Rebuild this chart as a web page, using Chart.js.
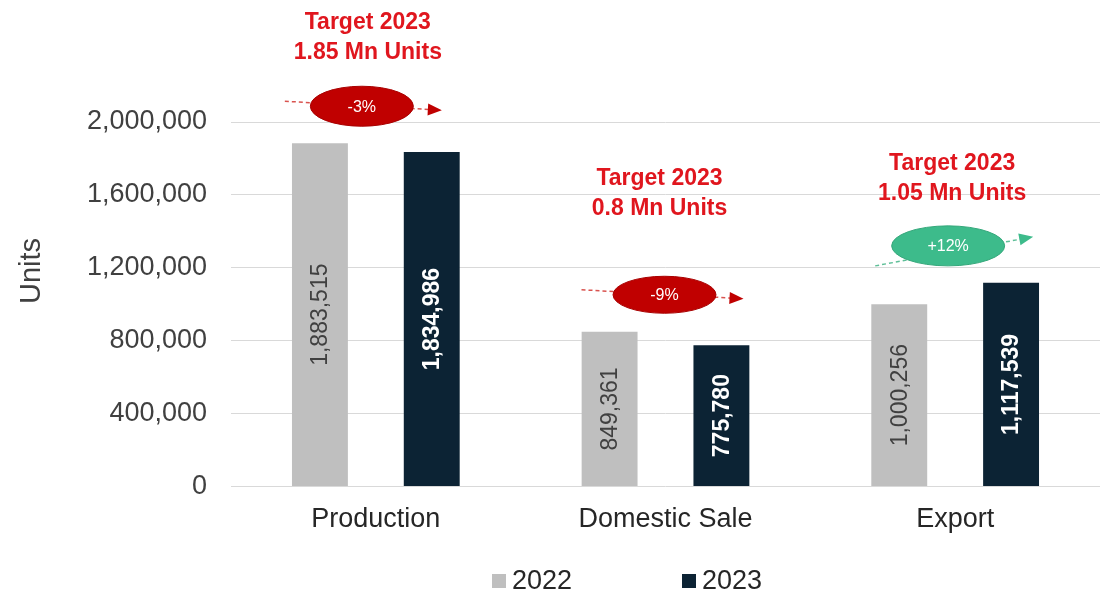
<!DOCTYPE html>
<html>
<head>
<meta charset="utf-8">
<script src="https://cdn.jsdelivr.net/npm/chart.js@4.4.0/dist/chart.umd.min.js"></script>
<style>
  html, body { margin: 0; padding: 0; background: #fff; }
  #wrap { width: 1102px; height: 598px; position: relative; }
</style>
</head>
<body>
<div id="wrap"><canvas id="chart"></canvas></div>
<script>
// data
const categories = ["Production", "Domestic Sale", "Export"];
const years = ["2022", "2023"];
const units2022 = [1883515, 849361, 1000256];
const units2023 = [1834986, 775780, 1117539];
const targets2023 = ["1.85", "0.8", "1.05"];
const yMin = 0;
const yMax = 2000000;
const yStep = 400000;

// styles
const FONT = "'Liberation Sans', Arial, sans-serif";
const colors = ["#bfbfbf", "#0c2334"];
const labelColors = ["#404040", "#ffffff"];
const labelWeights = ["normal", "bold"];
const targetRed = "#e0161e";

// offsets of the target notes (px, relative to category centre / tallest bar)
const noteLayout = [
  { textDx: -8, textDy: -84, ovalDx: -14, w: 103, h: 40, from: [-77, -5], to: [80, 4] },
  { textDx: -6, textDy: -116, ovalDx: -1, w: 103, h: 37, from: [-83, -5], to: [79, 4] },
  { textDx: -3, textDy: -82, ovalDx: -7, w: 113, h: 40, from: [-73, 20], to: [85, -9] },
];

const fmt = (v) => v.toLocaleString("en-US");

// vertical value labels inside every bar
const barLabels = {
  id: "barLabels",
  afterDatasetsDraw(chart) {
    const ctx = chart.ctx;
    chart.data.datasets.forEach((ds, di) => {
      chart.getDatasetMeta(di).data.forEach((bar, i) => {
        ctx.save();
        ctx.translate(bar.x, (bar.y + bar.base) / 2);
        ctx.rotate(-Math.PI / 2);
        ctx.font = labelWeights[di] + " 23px " + FONT;
        ctx.fillStyle = labelColors[di];
        ctx.textAlign = "center";
        ctx.textBaseline = "middle";
        ctx.fillText(fmt(ds.data[i]), 0, 1);
        ctx.restore();
      });
    });
  },
};

// target text + change oval with dashed arrow above each group
const targetNotes = {
  id: "targetNotes",
  afterDraw(chart) {
    const ctx = chart.ctx;
    const x = chart.scales.x;
    const y = chart.scales.y;
    categories.forEach((c, i) => {
      const L = noteLayout[i];
      const cx = x.getPixelForValue(i);
      const top = y.getPixelForValue(Math.max(units2022[i], units2023[i]));
      const oy = top - 37;
      const ox = cx + L.ovalDx;
      const change = Math.round((units2023[i] - units2022[i]) / units2022[i] * 100);
      const up = change > 0;
      const fill = up ? "#3dbb8b" : "#c00000";
      const dash = up ? "#5fbf98" : "#d9534f";

      // text
      ctx.save();
      ctx.font = "bold 23px " + FONT;
      ctx.fillStyle = targetRed;
      ctx.textAlign = "center";
      ctx.textBaseline = "middle";
      ctx.fillText("Target 2023", cx + L.textDx, oy + L.textDy);
      ctx.fillText(targets2023[i] + " Mn Units", cx + L.textDx, oy + L.textDy + 30);

      // dashed trend line
      const x1 = ox + L.from[0], y1 = oy + L.from[1];
      const x2 = ox + L.to[0], y2 = oy + L.to[1];
      ctx.strokeStyle = dash;
      ctx.lineWidth = 1.5;
      ctx.setLineDash([4, 3]);
      ctx.beginPath();
      ctx.moveTo(x1, y1);
      ctx.lineTo(x2 - 10, y2 - (y2 - y1) * 10 / (x2 - x1));
      ctx.stroke();
      ctx.setLineDash([]);

      // arrow head
      const a = Math.atan2(y2 - y1, x2 - x1);
      ctx.fillStyle = up ? "#3dbb8b" : "#c00000";
      ctx.beginPath();
      ctx.moveTo(x2, y2);
      ctx.lineTo(x2 - 14 * Math.cos(a) + 6 * Math.sin(a), y2 - 14 * Math.sin(a) - 6 * Math.cos(a));
      ctx.lineTo(x2 - 14 * Math.cos(a) - 6 * Math.sin(a), y2 - 14 * Math.sin(a) + 6 * Math.cos(a));
      ctx.closePath();
      ctx.fill();

      // oval
      ctx.beginPath();
      ctx.ellipse(ox, oy, L.w / 2, L.h / 2, 0, 0, Math.PI * 2);
      ctx.fillStyle = fill;
      ctx.fill();
      ctx.lineWidth = 1;
      ctx.strokeStyle = up ? "#34a77a" : "#a80000";
      ctx.stroke();

      ctx.font = "16px " + FONT;
      ctx.fillStyle = "#ffffff";
      ctx.fillText((up ? "+" : "") + change + "%", ox, oy + 1);
      ctx.restore();
    });
  },
};

// y axis name + legend under the category labels
const sideAndLegend = {
  id: "sideAndLegend",
  afterDraw(chart) {
    const ctx = chart.ctx;
    ctx.save();
    ctx.translate(32, 271);
    ctx.rotate(-Math.PI / 2);
    ctx.font = "29px " + FONT;
    ctx.fillStyle = "#404040";
    ctx.textAlign = "center";
    ctx.textBaseline = "middle";
    ctx.fillText("Units", 0, 0);
    ctx.restore();

    const starts = [492, 682];
    ctx.save();
    ctx.font = "27px " + FONT;
    ctx.textBaseline = "middle";
    chart.data.datasets.forEach((ds, i) => {
      ctx.fillStyle = ds.backgroundColor;
      ctx.fillRect(starts[i], 574, 14, 14);
      ctx.fillStyle = "#262626";
      ctx.fillText(ds.label, starts[i] + 20, 582);
    });
    ctx.restore();
  },
};

new Chart(document.getElementById("chart"), {
  type: "bar",
  data: {
    labels: categories,
    datasets: [
      { label: years[0], data: units2022, backgroundColor: colors[0] },
      { label: years[1], data: units2023, backgroundColor: colors[1] },
    ],
  },
  options: {
    responsive: true,
    maintainAspectRatio: false,
    animation: false,
    categoryPercentage: 0.772,
    barPercentage: 0.5,
    layout: { padding: { top: 122, right: 2, bottom: 53, left: 0 } },
    plugins: {
      legend: { display: false },
      tooltip: { enabled: false },
    },
    scales: {
      x: {
        grid: { display: false },
        border: { display: false },
        ticks: { font: { family: FONT, size: 27 }, color: "#262626", padding: 9 },
      },
      y: {
        min: yMin,
        max: yMax,
        afterFit: (axis) => { axis.width = 231; },
        grid: { color: "#d9d9d9", drawTicks: false },
        border: { display: false },
        ticks: {
          stepSize: yStep,
          padding: 24,
          font: { family: FONT, size: 27 },
          color: "#404040",
          callback: (v) => fmt(v),
        },
      },
    },
  },
  plugins: [barLabels, targetNotes, sideAndLegend],
});
</script>
</body>
</html>
